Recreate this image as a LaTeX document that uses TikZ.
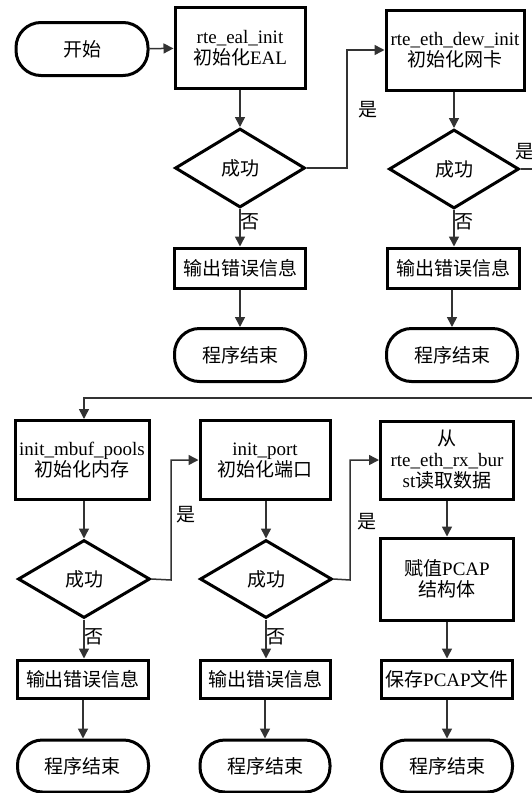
\documentclass[tikz,border=0pt]{standalone}
\usepackage{fontspec}
\setmainfont{Liberation Serif}
\newfontfamily\cjk{Noto Sans CJK SC}
\usetikzlibrary{shapes.geometric,arrows.meta}
\newcommand\zh[1]{{\cjk #1}}
\begin{document}
\begin{tikzpicture}[x=1pt,y=-1pt,
  font=\fontsize{19}{21}\selectfont,
  box/.style={draw, line width=3pt, inner sep=0pt, align=center},
  term/.style={draw, line width=3pt, rounded corners=25pt, inner sep=0pt, minimum height=53pt},
  dia/.style={draw, diamond, line width=3pt, inner sep=0pt, minimum width=130pt, minimum height=79pt},
  arr/.style={line width=1.5pt, draw=black!80, -{Triangle[length=10pt,width=10pt]}},
  lbl/.style={inner sep=0pt}]
\useasboundingbox (0,0) rectangle (532,793);
\clip (0,0) rectangle (532,793);
\fill[white] (0,0) rectangle (532,793);

% top row
\node[term, minimum width=132pt] (start) at (82,49) {\zh{开始}};
\node[box, minimum width=130pt, minimum height=81pt] (b1) at (240,48) {rte\_eal\_init\\\zh{初始化}EAL};
\node[dia] (d1) at (240,168) {\zh{成功}};
\node[box, minimum width=131pt, minimum height=40pt] (e1) at (240,268) {\zh{输出错误信息}};
\node[term, minimum width=131pt] (t1) at (240,355) {\zh{程序结束}};

\node[box, minimum width=138pt, minimum height=80pt] (b2) at (455,50) {rte\_eth\_dew\_init\\\zh{初始化网卡}};
\node[dia] (d2) at (454,169) {\zh{成功}};
\node[box, minimum width=132pt, minimum height=40pt] (e2) at (453,268) {\zh{输出错误信息}};
\node[term, minimum width=131pt] (t2) at (452,355) {\zh{程序结束}};

% bottom row
\node[box, minimum width=134pt, minimum height=79pt] (b3) at (82,460) {init\_mbuf\_pools\\\zh{初始化内存}};
\node[dia, minimum width=132pt, minimum height=78pt] (d3) at (84,579) {\zh{成功}};
\node[box, minimum width=131pt, minimum height=38pt] (e3) at (83,679) {\zh{输出错误信息}};
\node[term, minimum width=131pt, minimum height=52pt] (t3) at (83,766) {\zh{程序结束}};

\node[box, minimum width=130pt, minimum height=79pt] (b4) at (265,460) {init\_port\\\zh{初始化端口}};
\node[dia, minimum width=132pt, minimum height=78pt] (d4) at (266,579) {\zh{成功}};
\node[box, minimum width=130pt, minimum height=38pt] (e4) at (265,679) {\zh{输出错误信息}};
\node[term, minimum width=130pt, minimum height=52pt] (t4) at (265,766) {\zh{程序结束}};

\node[box, minimum width=133pt, minimum height=78pt] (b5) at (447,460) {\zh{从}\\rte\_eth\_rx\_bur\\st\zh{读取数据}};
\node[box, minimum width=133pt, minimum height=82pt] (b6) at (447,579) {\zh{赋值}PCAP\\\zh{结构体}};
\node[box, minimum width=131pt, minimum height=38pt] (b7) at (447,679) {\zh{保存}PCAP\zh{文件}};
\node[term, minimum width=131pt, minimum height=52pt] (t5) at (447,766) {\zh{程序结束}};

% waypoints
\coordinate (j1) at (347,168);
\coordinate (j2) at (540,169);
\coordinate (j3) at (540,398);
\coordinate (j4) at (84,398);
\coordinate (j5) at (171,580);
\coordinate (j6) at (350,580);

% connectors
\draw[arr] (start) -- (b1);
\draw[arr] (b1) -- (d1);
\draw[arr] (d1.east) -- (j1) |- (b2.west);
\draw[arr] (b2.south -| d2.north) -- (d2.north);
\draw[arr] (d1) -- (e1);
\draw[arr] (e1) -- (t1);
\draw[arr] (d2.south) -- (d2.south |- e2.north);
\draw[arr] (e2.south -| t2.north) -- (t2.north);
\draw[arr] (d2.east) -- (j2) -- (j3) -- (j4) -- (j4 |- b3.north);

\draw[arr] (b3.south -| d3.north) -- (d3.north);
\draw[arr] (d3.south) -- (d3.south |- e3.north);
\draw[arr] (e3) -- (t3);
\draw[arr] (d3.east) -- (j5) |- (b4.west);

\draw[arr] (b4.south -| d4.north) -- (d4.north);
\draw[arr] (d4.south) -- (d4.south |- e4.north);
\draw[arr] (e4) -- (t4);
\draw[arr] (d4.east) -- (j6) |- (b5.west);

\draw[arr] (b5) -- (b6);
\draw[arr] (b6) -- (b7);
\draw[arr] (b7) -- (t5);

% labels
\node[lbl] (y1) at (368,110) {\zh{是}};
\node[lbl] (y2) at (525,152) {\zh{是}};
\node[lbl] (y3) at (186,515) {\zh{是}};
\node[lbl] (y4) at (367,522) {\zh{是}};
\node[lbl] (n1) at (250,222) {\zh{否}};
\node[lbl] (n2) at (464,222) {\zh{否}};
\node[lbl] (n3) at (94,637) {\zh{否}};
\node[lbl] (n4) at (276,637) {\zh{否}};
\end{tikzpicture}
\end{document}
